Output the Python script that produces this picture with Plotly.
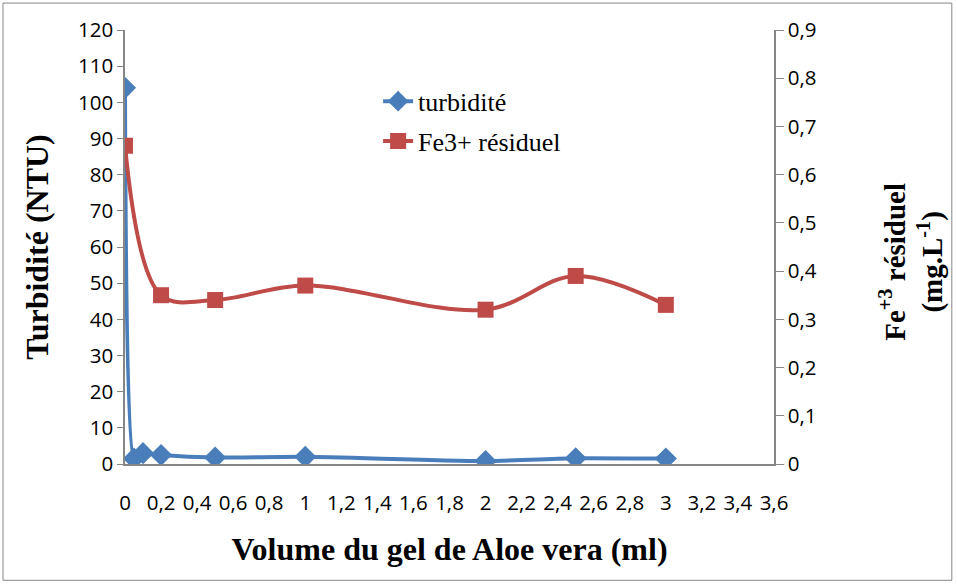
import plotly.graph_objects as go

# Données
vol_turb = [0, 0.05, 0.1, 0.2, 0.5, 1, 2, 2.5, 3]
turbidite = [104, 1.5, 3, 2.5, 1.8, 2, 0.8, 1.6, 1.5]

vol_fe = [0, 0.2, 0.5, 1, 2, 2.5, 3]
fe_residuel = [0.66, 0.35, 0.34, 0.37, 0.32, 0.39, 0.33]

x_ticks = [round(i * 0.2, 1) for i in range(19)]
x_labels = [("%g" % v).replace(".", ",") for v in x_ticks]

y2_ticks = [round(i * 0.1, 1) for i in range(10)]
y2_labels = [("%g" % v).replace(".", ",") for v in y2_ticks]

blue = "#4A7EBB"
red = "#BE4B48"
axis_col = "#868686"

fig = go.Figure()
fig.add_trace(go.Scatter(
    x=vol_turb, y=turbidite, name="turbidité", mode="lines+markers", legendgroup="a",
    line=dict(color=blue, width=4, shape="spline", smoothing=0.5),
    marker=dict(symbol="diamond", size=17, color=blue),
))
fig.add_trace(go.Scatter(
    x=vol_fe, y=fe_residuel, name="Fe3+ résiduel", mode="lines+markers", yaxis="y2",
    legendgroup="b",
    line=dict(color=red, width=4, shape="spline", smoothing=1),
    marker=dict(symbol="square", size=16, color=red),
))

tick_font = dict(family="Open Sans, Liberation Sans", size=20.5, color="black")
title_font = dict(family="Liberation Serif", size=32, color="black")

fig.update_layout(
    width=957, height=588,
    margin=dict(l=125, r=183, t=30, b=124),
    plot_bgcolor="white", paper_bgcolor="white",
    showlegend=True,
    legend=dict(x=0.39, y=0.89, xanchor="left", yanchor="top",
                font=dict(family="Liberation Serif", size=26, color="black"),
                bgcolor="rgba(0,0,0,0)", tracegroupgap=3),
    xaxis=dict(range=[0, 3.6], tickvals=x_ticks, ticktext=x_labels, tickfont=tick_font,
               tickangle=0, showgrid=False, zeroline=False, showline=True, linecolor=axis_col,
               linewidth=1.5, ticks="", ticklabelstandoff=20, automargin=False,
               title=dict(text="<b>Volume du gel de Aloe vera (ml)</b>", font=title_font, standoff=22)),
    yaxis=dict(range=[0, 120], dtick=10, tickfont=tick_font, showgrid=False, zeroline=False,
               showline=True, linecolor=axis_col, linewidth=1.5, ticks="outside", ticklen=6,
               tickcolor=axis_col, automargin=False,
               title=dict(text="<b>Turbidité (NTU)</b>", font=title_font, standoff=20)),
    yaxis2=dict(range=[0, 0.9], tickvals=y2_ticks, ticktext=y2_labels, overlaying="y",
                side="right", tickfont=tick_font, automargin=False,
                showgrid=False, zeroline=False, showline=True, linecolor=axis_col, linewidth=1.5,
                ticks="outside", ticklen=8, tickcolor=axis_col),
)

# titre de l'axe droit
fig.add_annotation(text="<b>Fe<sup>+3</sup> résiduel<br>(mg.L<sup>-1</sup>)</b>",
                   xref="paper", yref="paper", x=1.212, y=0.465, textangle=-90,
                   xanchor="center", yanchor="middle",
                   showarrow=False, font=dict(family="Liberation Serif", size=29, color="black"))

fig.add_shape(type="rect", xref="paper", yref="paper",
              x0=-0.188, x1=1.274, y0=-0.268, y1=1.062,
              line=dict(color=axis_col, width=1))

fig.write_html("out.html", config={"displayModeBar": False},
               post_script="document.body.style.margin='0';")
